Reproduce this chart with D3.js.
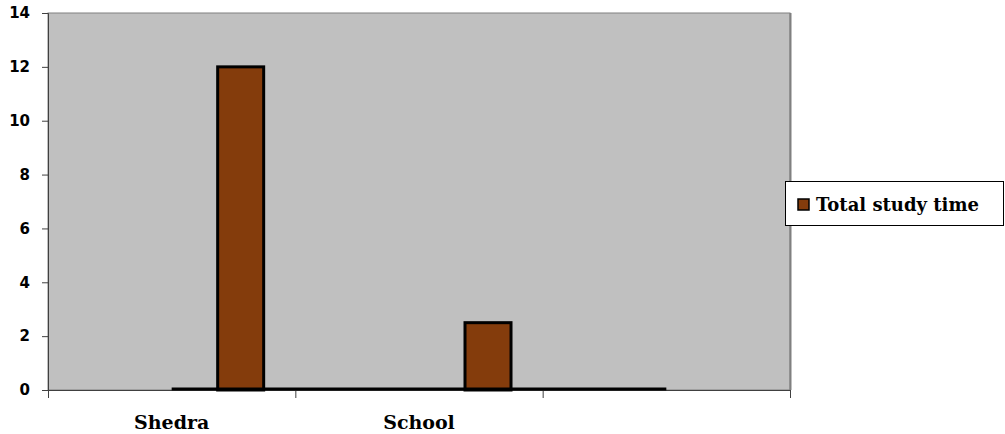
<!DOCTYPE html>
<html>
<head>
<meta charset="utf-8">
<script src="https://cdn.jsdelivr.net/npm/d3@7"></script>
<style>
  body { margin: 0; background: #fff; }
</style>
</head>
<body>
<div id="root"></div>
<script>
// chart data
const categories = ["Shedra", "School", ""];
const seriesNames = ["Total study time"];
const studyTime = [12, 2.5, null];        // Total study time
const zeroLine = [0, 0, 0];               // flat line series at zero
const yTicks = [0, 2, 4, 6, 8, 10, 12, 14];

const w = 1005;
const h = 434;
const plot = { left: 48, right: 790, top: 13, bottom: 390 };

const svg = d3.select("#root")
    .append("svg")
    .attr("width", w)
    .attr("height", h);

const x = d3.scaleBand()
    .domain(categories.map((d, i) => i))
    .range([plot.left, plot.right]);

const y = d3.scaleLinear()
    .domain([0, 14])
    .range([plot.bottom, plot.top]);

// four bar slots per cluster (only the last one is used), centred on the category
const barW = x.bandwidth() * 0.186;
const inner = d3.scaleBand()
    .domain([0, 1, 2, 3])
    .range([x.bandwidth() / 2 - 2 * barW, x.bandwidth() / 2 + 2 * barW]);

// plot area
svg.append("rect")
    .attr("x", plot.left)
    .attr("y", plot.top)
    .attr("width", plot.right - plot.left)
    .attr("height", plot.bottom - plot.top)
    .attr("fill", "#c0c0c0")
    .attr("stroke", "#808080")
    .attr("stroke-width", 1);

svg.append("line")
    .attr("x1", plot.right + 0.5).attr("x2", plot.right + 0.5)
    .attr("y1", plot.top).attr("y2", plot.bottom)
    .attr("stroke", "#808080")
    .attr("stroke-width", 2);

// y axis
const yAxis = svg.append("g")
    .attr("transform", `translate(${plot.left},0)`)
    .call(d3.axisLeft(y).tickValues(yTicks).tickSize(6).tickPadding(12));
yAxis.select(".domain").attr("stroke", "#404040");
yAxis.selectAll(".tick line").attr("stroke", "#404040");
yAxis.selectAll("text")
    .attr("font-family", "DejaVu Sans")
    .attr("font-weight", "bold")
    .attr("font-size", "15px")
    .attr("fill", "#000");

// x axis: ticks at category boundaries
const xAxis = svg.append("g")
    .attr("transform", `translate(0,${plot.bottom})`)
    .call(d3.axisBottom(x).tickSize(0).tickFormat(i => categories[i]).tickPadding(26));
xAxis.select(".domain").attr("stroke", "#404040");
xAxis.selectAll("text")
    .attr("font-family", "DejaVu Serif")
    .attr("font-weight", "bold")
    .attr("font-size", "19px")
    .attr("fill", "#000");
const bounds = categories.map((d, i) => x(i)).concat([x(categories.length - 1) + x.bandwidth()]);
xAxis.selectAll(".bound")
    .data(bounds)
    .enter()
    .append("line")
    .attr("x1", d => d + 0.5).attr("x2", d => d + 0.5)
    .attr("y1", 0).attr("y2", 8)
    .attr("stroke", "#404040");

// bars
svg.append("g")
    .selectAll("rect")
    .data(studyTime.map((v, i) => ({ v, i })).filter(d => d.v !== null))
    .enter()
    .append("rect")
    .attr("x", d => x(d.i) + inner(3))
    .attr("y", d => y(d.v))
    .attr("width", inner.bandwidth())
    .attr("height", d => y(0) - y(d.v))
    .attr("fill", "#843c0c")
    .attr("stroke", "#000")
    .attr("stroke-width", 3);

// flat zero line
svg.append("path")
    .datum(zeroLine)
    .attr("d", d3.line().x((d, i) => x(i) + x.bandwidth() / 2).y(d => y(d) - 1))
    .attr("fill", "none")
    .attr("stroke", "#000")
    .attr("stroke-width", 3);

// legend
const legend = svg.append("g").attr("transform", "translate(785,181)");
legend.append("rect")
    .attr("x", 0.5).attr("y", 0.5)
    .attr("width", 218).attr("height", 44)
    .attr("fill", "#fff")
    .attr("stroke", "#000");
legend.append("rect")
    .attr("x", 13).attr("y", 18)
    .attr("width", 11).attr("height", 11)
    .attr("fill", "#843c0c")
    .attr("stroke", "#000")
    .attr("stroke-width", 1.5);
legend.append("text")
    .attr("x", 31).attr("y", 30)
    .attr("font-family", "DejaVu Serif")
    .attr("font-weight", "bold")
    .attr("font-size", "18px")
    .text(seriesNames[0]);
</script>
</body>
</html>
